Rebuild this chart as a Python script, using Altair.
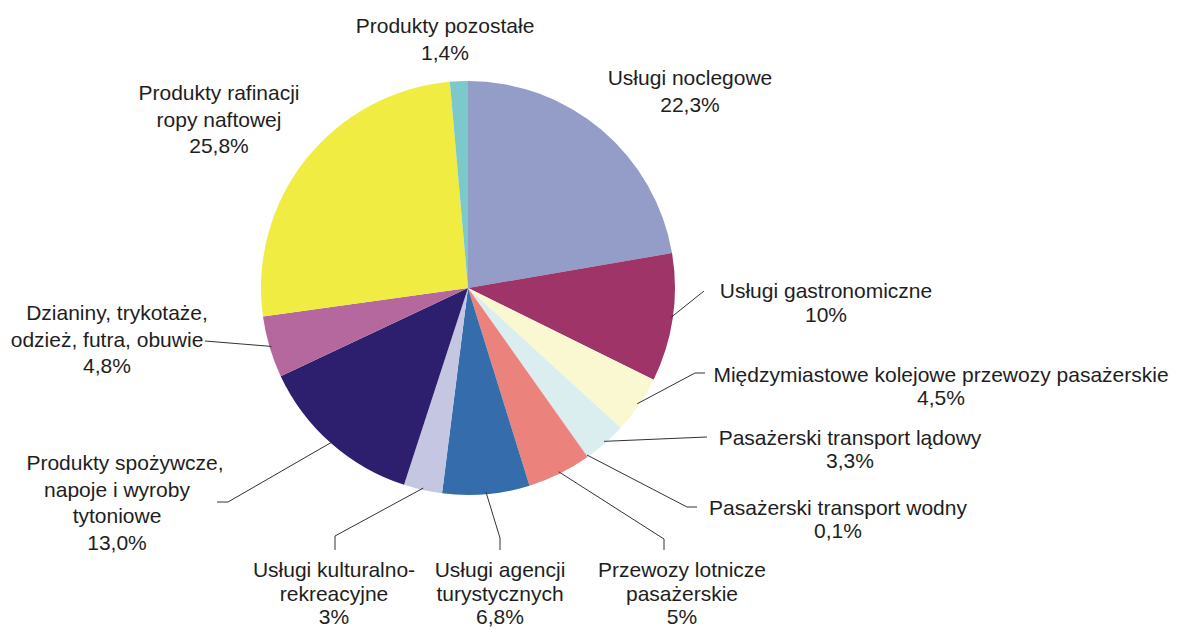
import math
import altair as alt
import pandas as pd

# ---- data ----
categories = [
    "Usługi noclegowe", "Usługi gastronomiczne",
    "Międzymiastowe kolejowe przewozy pasażerskie", "Pasażerski transport lądowy",
    "Pasażerski transport wodny", "Przewozy lotnicze pasażerskie",
    "Usługi agencji turystycznych", "Usługi kulturalno-rekreacyjne",
    "Produkty spożywcze, napoje i wyroby tytoniowe",
    "Dzianiny, trykotaże, odzież, futra, obuwie",
    "Produkty rafinacji ropy naftowej", "Produkty pozostałe",
]
values = [22.3, 10, 4.5, 3.3, 0.1, 5, 6.8, 3, 13.0, 4.8, 25.8, 1.4]
pct_labels = ["22,3%", "10%", "4,5%", "3,3%", "0,1%", "5%", "6,8%", "3%",
              "13,0%", "4,8%", "25,8%", "1,4%"]
name_lines = [
    ["Usługi noclegowe"],
    ["Usługi gastronomiczne"],
    ["Międzymiastowe kolejowe przewozy pasażerskie"],
    ["Pasażerski transport lądowy"],
    ["Pasażerski transport wodny"],
    ["Przewozy lotnicze", "pasażerskie"],
    ["Usługi agencji", "turystycznych"],
    ["Usługi kulturalno-", "rekreacyjne"],
    ["Produkty spożywcze,", "napoje i wyroby", "tytoniowe"],
    ["Dzianiny, trykotaże,", "odzież, futra, obuwie"],
    ["Produkty rafinacji", "ropy naftowej"],
    ["Produkty pozostałe"],
]

# ---- styles / layout ----
colors = ["#949CC8", "#9E3468", "#FAF8D0", "#DAEEF0", "#D8E0EC", "#EB827C",
          "#346CAC", "#C4C6E2", "#2E1E6E", "#B4689E", "#F0EC42", "#7CC8CA"]
W, H = 1161, 621
OFF = 8  # page margin
CX, CY, R = 468, 288, 207  # pie centre / radius (page coords)
FONT = "Liberation Sans"
FS = 21
# label layout: (centre x, first baseline y, line step, first-line x shift)
label_layout = [
    (690, 85, 27, 0), (826, 298, 24, 0), (941, 382, 23, 0), (850, 445, 23, 0),
    (838, 515, 23, 0), (682, 577, 23.5, 0), (500, 577, 23.5, 0), (334, 577, 23.5, 0),
    (117, 470, 26.5, 8), (107, 320, 26.5, 10), (219, 100, 26.5, 0), (445, 33, 27, 0),
]
# leader line points after the start point on the pie edge
leader_layout = [
    [], [(704, 291)], [(695, 373), (705, 373)], [(707, 437)],
    [(687, 507), (697, 507)], [(664, 539), (664, 550)], [(500, 538), (500, 550)],
    [(335, 536), (335, 550)], [(228, 502), (217, 502)], [(205, 341)], [], [],
]

# ---- tables ----
pie_df = pd.DataFrame({"cat": categories, "val": values, "idx": range(len(values))})

text_rows = []
for lines, pct, (cx, y0, dy, sh) in zip(name_lines, pct_labels, label_layout):
    allines = lines + [pct]
    for k, t in enumerate(allines):
        text_rows.append({"t": t, "x": cx + (sh if k == 0 else 0) - OFF,
                          "y": y0 + k * dy - OFF})
text_df = pd.DataFrame(text_rows)

total = sum(values)
seg_rows = []
cum = 0.0
for v, pts in zip(values, leader_layout):
    mid = (cum + v / 2) / total * 2 * math.pi
    cum += v
    if not pts:
        continue
    r0 = R - 2
    start = (CX + r0 * math.sin(mid), CY - r0 * math.cos(mid))
    poly = [start] + pts
    for a, b in zip(poly[:-1], poly[1:]):
        seg_rows.append({"x": a[0] - OFF, "y": a[1] - OFF,
                         "x2": b[0] - OFF, "y2": b[1] - OFF})
seg_df = pd.DataFrame(seg_rows)

xs = alt.Scale(domain=[0, W], nice=False, zero=False)
ys = alt.Scale(domain=[0, H], nice=False, zero=False, reverse=True)

pie = alt.Chart(pie_df).mark_arc(outerRadius=R).encode(
    theta=alt.Theta("val:Q", stack=True),
    order=alt.Order("idx:Q"),
    color=alt.Color("cat:N", scale=alt.Scale(domain=categories, range=colors), legend=None),
    x=alt.value(CX - OFF),
    y=alt.value(CY - OFF),
)

leaders = alt.Chart(seg_df).mark_rule(color="#333333", strokeWidth=1).encode(
    x=alt.X("x:Q", scale=xs, axis=None),
    y=alt.Y("y:Q", scale=ys, axis=None),
    x2="x2:Q",
    y2="y2:Q",
)

texts = alt.Chart(text_df).mark_text(
    font=FONT, fontSize=FS, align="center", baseline="alphabetic", color="#1E1E1E"
).encode(
    x=alt.X("x:Q", scale=xs, axis=None),
    y=alt.Y("y:Q", scale=ys, axis=None),
    text="t:N",
)

chart = alt.layer(pie, leaders, texts).properties(
    width=W, height=H, padding=0, autosize=alt.AutoSizeParams(type="none"),
    background="white",
).configure_view(stroke=None)

chart.save("out.html", embed_options={"renderer": "svg", "actions": False})
